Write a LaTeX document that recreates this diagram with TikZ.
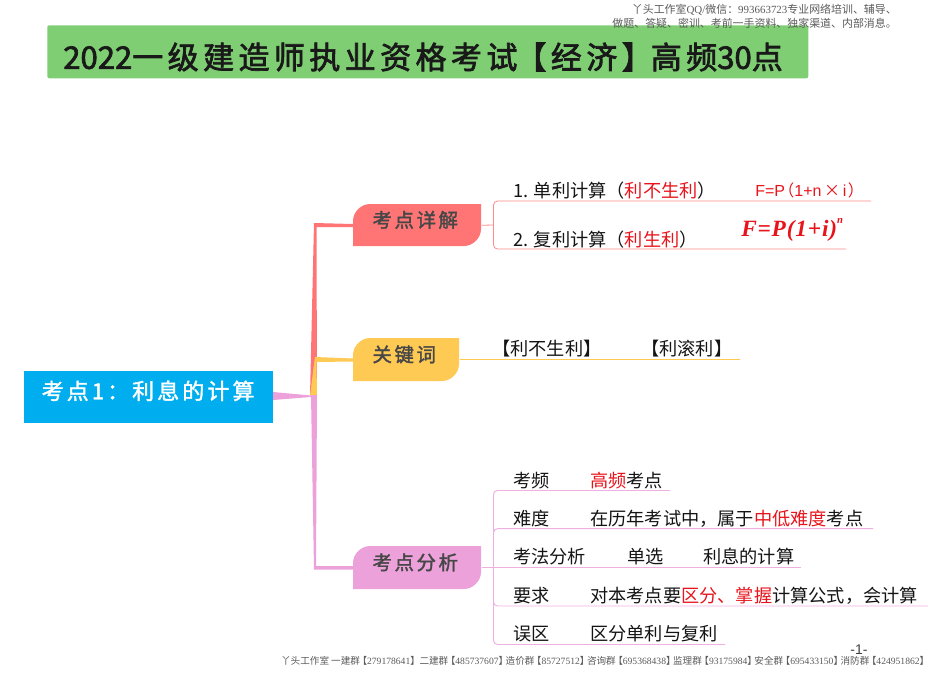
\documentclass[tikz,border=0pt]{standalone}
\usepackage{fontspec}
\setmainfont{Noto Sans CJK SC}
\newfontfamily\spfont[LetterSpace=14,FakeBold=2.2]{Noto Sans CJK SC}
\newfontfamily\spplain[FakeBold=2.2]{Noto Sans CJK SC}
\newfontfamily\rootfont[LetterSpace=14,FakeBold=1.6]{Noto Sans CJK SC}
\newfontfamily\boxfont[LetterSpace=13,FakeBold=1.8]{Noto Sans CJK SC}
\newfontfamily\rmlat{Liberation Serif}
\newfontfamily\arial{Liberation Sans}
\newfontfamily\fmfont[LetterSpace=3.5]{Liberation Serif}
\definecolor{cgreen}{HTML}{7FCE74}
\definecolor{cblue}{HTML}{00AEEF}
\definecolor{cred}{HTML}{FF7575}
\definecolor{cyel}{HTML}{FFCA54}
\definecolor{cpink}{HTML}{ECA1DB}
\definecolor{hot}{HTML}{E8141C}
\definecolor{note}{HTML}{5A5A5A}
\tikzset{
  txt/.style={anchor=west,inner sep=0pt,yshift=-0.6pt,font=\fontsize{13.65pt}{16pt}\selectfont,text=black!92},
  hdr/.style={anchor=east,inner sep=0pt,font=\fontsize{8.2pt}{10pt}\selectfont,text=note},
  boxlabel/.style={inner sep=0pt,font=\fontsize{14.6pt}{17pt}\selectfont\boxfont,text=black!72},
  redline/.style={draw=cred!85,line width=0.6pt},
  yelline/.style={draw=cyel,line width=0.9pt},
  pinkline/.style={draw=cpink!85,line width=0.7pt},
}
\newcommand{\hot}[1]{\textcolor{hot}{#1}}
\newcommand{\fl}{\kern-1.9pt【}
\newcommand{\fr}{】\kern-1.9pt}
\newcommand{\leafbox}[7]{%
  \fill[#6] (#2,#5) -- (#2,#3+17) .. controls (#2,#3+8) and (#2+8,#3) .. (#2+17,#3) -- (#4,#3)
     -- (#4,#5-17) .. controls (#4,#5-8) and (#4-8,#5) .. (#4-17,#5) -- cycle;
  \node[boxlabel,minimum width=#4*0.75pt-#2*0.75pt,minimum height=#5*0.75pt-#3*0.75pt,anchor=north west] (#1) at (#2,#3) {\kern-3pt\raisebox{-1.5pt}[0pt][0pt]{#7}};}
\begin{document}
\begin{tikzpicture}[x=0.75pt,y=-0.75pt]
\useasboundingbox (0,0) rectangle (950,672);
% title
\node[fill=cgreen,rounded corners=1.5pt,minimum width=570.75pt,minimum height=39.75pt,inner sep=0pt,anchor=north west] (title) at (47,25) {};
\node[anchor=west,inner sep=0pt,font=\fontsize{23.3pt}{26pt}\selectfont\spplain,text=black!90] (titletext) at (63,57) {2022{\spfont 一级建造师执业资格考试\kern-1.5pt【经济】\kern-1.5pt 高频}30{\spfont 点}};
% header note
\node[hdr] (h1) at (897,10) {丫头工作室{\rmlat QQ/}微信：{\rmlat 993663723}专业网络培训、辅导、};
\node[hdr] (h2) at (897,23) {做题、答疑、密训、考前一手资料、独家渠道、内部消息。};
% tapered trunks
\coordinate (j) at (314,396);
\fill[cred] (310,396) -- (317,396) -- (316.5,227) -- (353,227) -- (353,224) -- (314,223) -- cycle;
\fill[cyel] (310,396) -- (317,396) -- (316.5,362) -- (353,361.5) -- (353,358.5) -- (315,357) -- cycle;
\fill[cpink] (311,395) -- (317,395) -- (316,566) -- (353,566) -- (353,569.5) -- (314,569.5) -- cycle;
\fill[cpink] (273,392) -- (311,395.5) -- (311,397) -- (273,400) -- cycle;
% root
\node[fill=cblue,minimum width=186.75pt,minimum height=39pt,inner sep=0pt,anchor=north west,text=white,font=\fontsize{16.5pt}{19pt}\selectfont\rootfont] (root) at (24,371) {\kern-1pt\raisebox{-1.5pt}[0pt][0pt]{考点1：利息的计算}};
% branches
\leafbox{rbox}{353}{204}{481}{246}{cred}{考点详解}
\leafbox{ybox}{353}{338}{459}{381}{cyel}{关键词}
\leafbox{pbox}{353}{546}{481}{589}{cpink}{考点分析}
% red bracket
\coordinate (rj) at (493.5,225);
\coordinate (r1) at (871,201);
\coordinate (r2) at (846,249);
\draw[redline] (rbox.east) -- (rj);
\draw[redline,rounded corners=3pt] (r1) -- (rj |- r1) -- (rj |- r2) -- (r2);
\node[txt] (t1) at (513,190) {1. 单利计算（\hot{利不生利}）};
\node[txt] (t2) at (513,238.5) {2. 复利计算（\hot{利生利}）};
\node[txt,text=hot,font=\fontsize{12pt}{15pt}\selectfont] (f1) at (755,190) {{\arial F=P}\kern-5pt（{\arial 1+n}\,×\,{\arial i}\kern1pt）};
\node[anchor=west,inner sep=0pt,text=hot,font=\fmfont\bfseries\itshape\fontsize{17.5pt}{20pt}\selectfont] (f2) at (741,230) {F=P(1+i)\raisebox{1.2ex}{\fontsize{8pt}{9pt}\selectfont n}};
% yellow line
\coordinate (y1) at (740,359.5);
\draw[yelline] (ybox.east |- y1) -- (y1);
\node[txt] (k1) at (492,348) {【利不生利】};
\node[txt] (k2) at (641,348) {【利滚利】};
% pink bracket
\coordinate (pj) at (493.5,567);
\coordinate (p1) at (670,490.5);
\coordinate (p2) at (873,528.7);
\coordinate (p3) at (801,567);
\coordinate (p4) at (928,606);
\coordinate (p5) at (725,644.5);
\draw[pinkline] (pbox.east |- p3) -- (p3);
\draw[pinkline,rounded corners=3pt] (p1) -- (pj |- p1) -- (pj |- p5) -- (p5);
\draw[pinkline,rounded corners=3pt] (p2) -- (pj |- p2) -- (pj |- p3);
\draw[pinkline,rounded corners=3pt] (p4) -- (pj |- p4) -- (pj |- p3);
\node[txt] (a1) at (513,480) {考频};
\node[txt] (b1) at (590,480) {\hot{高频}考点};
\node[txt] (a2) at (513,518) {难度};
\node[txt] (b2) at (590,518) {在历年考试中，属于\hot{中低难度}考点};
\node[txt] (a3) at (513,556) {考法分析};
\node[txt] (b3) at (627,556) {单选};
\node[txt] (c3) at (703,556) {利息的计算};
\node[txt] (a4) at (513,595) {要求};
\node[txt] (b4) at (590,595) {对本考点要\hot{区分、掌握}计算公式，会计算};
\node[txt] (a5) at (513,633) {误区};
\node[txt] (b5) at (590,633) {区分单利与复利};
% footer
\node[anchor=center,inner sep=0pt,font=\arial\fontsize{10.5pt}{12pt}\selectfont,text=black!75] (pg) at (859,650) {-1-};
\node[hdr,anchor=east,font=\fontsize{7.2pt}{9pt}\selectfont] (foot) at (927,661) {丫头工作室 一建群\fl{\rmlat 279178641}\fr\ 二建群\fl{\rmlat 485737607}\fr 造价群\fl{\rmlat 85727512}\fr 咨询群\fl{\rmlat 695368438}\fr 监理群\fl{\rmlat 93175984}\fr 安全群\fl{\rmlat 695433150}\fr 消防群\fl{\rmlat 424951862}\fr};
\end{tikzpicture}
\end{document}
